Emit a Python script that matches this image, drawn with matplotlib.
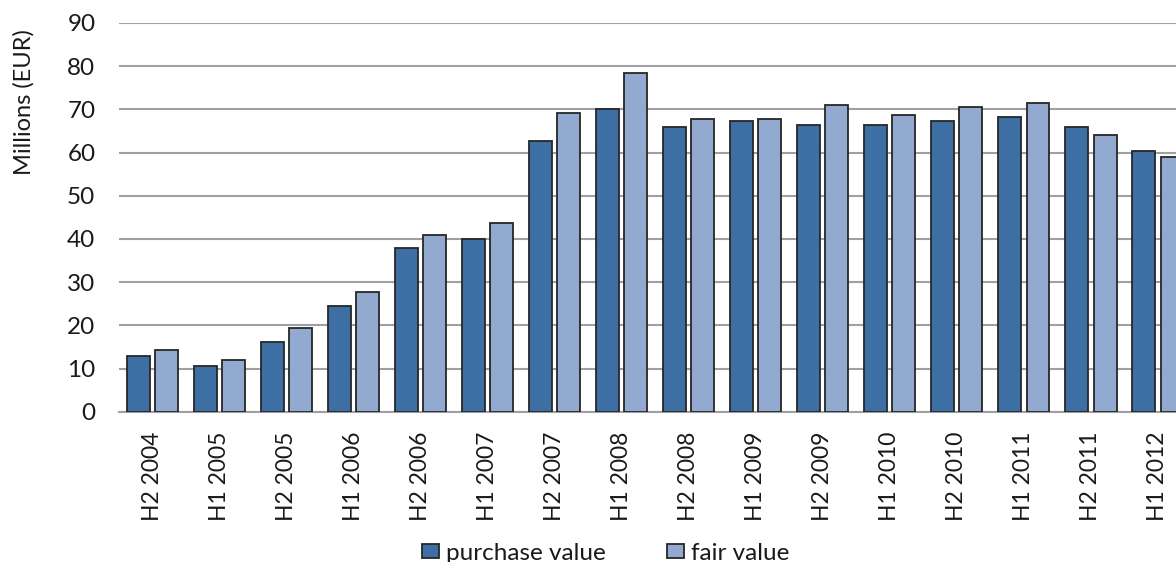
import numpy as np
from matplotlib import pyplot as plt
from matplotlib.patches import Patch

plt.rcParams['font.family'] = ['Lato', 'DejaVu Sans']

periods = ['H2 2004', 'H1 2005', 'H2 2005', 'H1 2006', 'H2 2006', 'H1 2007',
           'H2 2007', 'H1 2008', 'H2 2008', 'H1 2009', 'H2 2009', 'H1 2010',
           'H2 2010', 'H1 2011', 'H2 2011', 'H1 2012']
purchase_value = [12.9, 10.6, 16.1, 24.5, 37.8, 40.1, 62.7, 70.1,
                  66.0, 67.4, 66.4, 66.4, 67.4, 68.3, 66.0, 60.4]
fair_value = [14.3, 12.0, 19.3, 27.7, 41.0, 43.8, 69.2, 78.5,
              67.8, 67.8, 71.0, 68.7, 70.5, 71.5, 64.1, 59.0]

c_purchase = '#3D6FA5'
c_fair = '#92AACF'
c_edge = '#262626'
c_grid = '#A0A0A4'
c_text = '#1a1a1a'

fig = plt.figure(figsize=(11.76, 5.62), dpi=100)
# plot area runs past the right edge, like the cropped original
ax = fig.add_axes([119 / 1176, 1 - 411.7 / 562, (1191.5 - 119) / 1176, (411.7 - 23) / 562])

x = np.arange(len(periods))
w = 0.343
ax.bar(x - 0.21, purchase_value, w, color=c_purchase, edgecolor=c_edge, linewidth=1.3, zorder=3)
ax.bar(x + 0.21, fair_value, w, color=c_fair, edgecolor=c_edge, linewidth=1.3, zorder=3)

ax.set_xlim(-0.5, len(periods) - 0.5)
ax.set_ylim(0, 90)
ax.set_yticks(np.arange(0, 91, 10))
ax.yaxis.grid(True, color=c_grid, linewidth=1.5, zorder=0)
ax.set_axisbelow(True)
for s in ['left', 'right', 'top']:
    ax.spines[s].set_visible(False)
ax.spines['bottom'].set_color(c_grid)
ax.spines['bottom'].set_linewidth(1.5)

ax.set_xticks(x)
ax.set_xticklabels(periods, rotation=90)
ax.tick_params(axis='x', length=0, pad=14, labelsize=16.5, labelcolor=c_text)
ax.tick_params(axis='y', length=0, pad=17, labelsize=17.5, labelcolor=c_text)

fig.text(24 / 1176, 1 - 102 / 562, 'Millions (EUR)', rotation=90, ha='center', va='center',
         fontsize=17, color=c_text)

handles = [Patch(facecolor=c_purchase, edgecolor=c_edge, linewidth=1.3),
           Patch(facecolor=c_fair, edgecolor=c_edge, linewidth=1.3)]
fig.legend(handles, ['purchase value', 'fair value'], loc='center', ncol=2,
           bbox_to_anchor=(605.5 / 1176, 1 - 553 / 562), frameon=False, fontsize=17.5,
           labelcolor=c_text, handlelength=0.7, handleheight=0.55, handletextpad=0.3,
           columnspacing=2.5, borderpad=0)

fig.savefig('out.png', dpi=100)
